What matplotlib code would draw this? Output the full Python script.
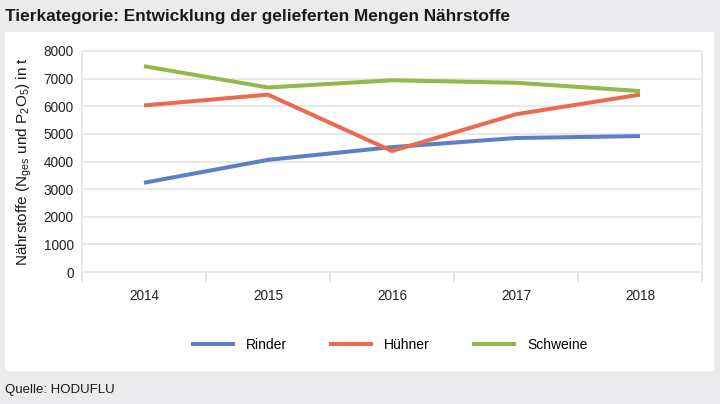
import matplotlib
matplotlib.use("Agg")
import matplotlib.pyplot as plt
from matplotlib.patches import Rectangle
from matplotlib.lines import Line2D

plt.rcParams["font.family"] = ["Liberation Sans Narrow", "Liberation Sans", "DejaVu Sans"]

years = ["2014", "2015", "2016", "2017", "2018"]
rinder = [3230, 4060, 4520, 4850, 4920]
huehner = [6030, 6420, 4380, 5710, 6420]
schweine = [7450, 6680, 6940, 6850, 6550]
series = [("Rinder", rinder, "#5b80c6"),
          ("Hühner", huehner, "#ec6a50"),
          ("Schweine", schweine, "#93b84c")]

W, H = 720, 404
fig = plt.figure(figsize=(W / 100, H / 100), dpi=100, facecolor="#ebebed")

# white panel behind the chart
panel = Rectangle((5 / W, 1 - 371 / H), 709 / W, 339 / H,
                  transform=fig.transFigure, fc="white", ec="none", zorder=-5)
fig.add_artist(panel)

fig.text(5 / W, 1 - 16 / H, "Tierkategorie: Entwicklung der gelieferten Mengen Nährstoffe",
         fontsize=12.4, fontweight="bold", color="#1a1a1a", va="center", ha="left")
fig.text(5 / W, 1 - 390 / H, "Quelle: HODUFLU", fontsize=9.5, color="#1a1a1a",
         va="center", ha="left")

ax = fig.add_axes([82 / W, 1 - 272 / H, 620 / W, 221 / H])
ax.set_facecolor("white")
x = list(range(len(years)))
for name, vals, c in series:
    ax.plot(x, vals, color=c, lw=2.9, solid_capstyle="butt", label=name, zorder=3)

ax.set_xlim(-0.5, len(years) - 0.5)
ax.set_ylim(0, 8000)
ax.set_yticks(range(0, 8001, 1000))
ax.set_xticks(x)
ax.set_xticklabels(years)
ax.set_xticks([i + 0.5 for i in range(-1, len(years))], minor=True)
ax.tick_params(axis="x", which="major", length=0, pad=12, labelsize=9.8, colors="#222222")
ax.tick_params(axis="x", which="minor", length=7, width=1.3, color="#e2e2e2", direction="out")
ax.tick_params(axis="y", length=0, pad=6, labelsize=9.8, colors="#222222")
ax.grid(axis="y", color="#e8e8e8", lw=1.4)
ax.set_axisbelow(True)
for s in ax.spines.values():
    s.set_color("#e8e8e8")
    s.set_linewidth(1.4)

ax.set_ylabel(r"Nährstoffe (N$_{\mathregular{ges}}$ und P$_{\mathregular{2}}$O$_{\mathregular{5}}$) in t",
              fontsize=11, color="#1a1a1a", labelpad=7)

handles = [Line2D([], [], color=c, lw=2.9) for _, _, c in series]
fig.legend(handles, [n for n, _, _ in series], loc="center", ncol=3,
           bbox_to_anchor=(390 / W, 1 - 345 / H), frameon=False, fontsize=10,
           handlelength=2.9, columnspacing=3.2, handletextpad=0.9)

fig.savefig("out.png", dpi=100, facecolor=fig.get_facecolor())
